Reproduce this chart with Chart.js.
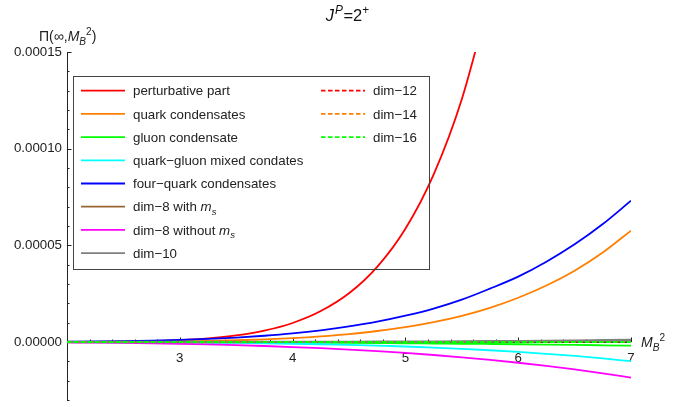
<!DOCTYPE html>
<html><head><meta charset="utf-8">
<style>html,body{margin:0;padding:0;background:#fff}#wrap{width:697px;height:407px;position:relative}</style>
<script src="https://cdn.jsdelivr.net/npm/chart.js@4/dist/chart.umd.min.js"></script>
</head><body><div id="wrap"><canvas id="c" width="697" height="407"></canvas></div>
<script>
// M_B^2 sample points
const mB2 = [2, 2.25, 2.5, 2.75, 3, 3.25, 3.5, 3.75, 4, 4.25, 4.5, 4.75, 5, 5.25, 5.5, 5.75, 6, 6.25, 6.5, 6.75, 7];

const perturbative = [3.8e-8, 9.9e-8, 2.29e-7, 4.91e-7, 9.84e-7, 1.87e-6, 3.38e-6, 5.87e-6, 9.83e-6, 1.60e-5, 2.52e-5, 3.89e-5, 5.86e-5, 8.66e-5, 1.256e-4, 1.79e-4, null, null, null, null, null];
const quarkCond = [3e-8, 6e-8, 1.2e-7, 2.1e-7, 3.6e-7, 5.8e-7, 9.0e-7, 1.36e-6, 2.01e-6, 2.90e-6, 4.07e-6, 5.69e-6, 7.66e-6, 1.026e-5, 1.356e-5, 1.77e-5, 2.29e-5, 2.92e-5, 3.69e-5, 4.63e-5, 5.76e-5];
const gluonCond = [-2e-8, -3e-8, -5e-8, -8e-8, -1.2e-7, -1.7e-7, -2.2e-7, -2.8e-7, -3.5e-7, -4.2e-7, -5.0e-7, -5.9e-7, -6.8e-7, -7.9e-7, -9.0e-7, -1.03e-6, -1.17e-6, -1.33e-6, -1.50e-6, -1.70e-6, -1.92e-6];
const mixedCond = [-5e-8, -8e-8, -1.2e-7, -1.8e-7, -2.6e-7, -3.7e-7, -5.0e-7, -6.8e-7, -9.0e-7, -1.16e-6, -1.49e-6, -1.88e-6, -2.34e-6, -2.88e-6, -3.53e-6, -4.26e-6, -5.12e-6, -6.11e-6, -7.20e-6, -8.50e-6, -9.93e-6];
const fourQuark = [1.4e-7, 2.5e-7, 4.2e-7, 6.8e-7, 1.06e-6, 1.58e-6, 2.28e-6, 3.23e-6, 4.45e-6, 6.03e-6, 8.03e-6, 1.05e-5, 1.36e-5, 1.73e-5, 2.19e-5, 2.76e-5, 3.38e-5, 4.15e-5, 5.05e-5, 6.10e-5, 7.31e-5];
const dim8WithMs = [0, 0, 0, 0, 1e-8, 1e-8, 2e-8, 2e-8, 3e-8, 4e-8, 5e-8, 6e-8, 7e-8, 9e-8, 1.1e-7, 1.3e-7, 1.5e-7, 1.8e-7, 2.1e-7, 2.4e-7, 2.8e-7];
const dim8NoMs = [-2.3e-7, -3.5e-7, -5.0e-7, -7.0e-7, -9.5e-7, -1.26e-6, -1.63e-6, -2.07e-6, -2.60e-6, -3.21e-6, -3.92e-6, -4.74e-6, -5.67e-6, -6.73e-6, -7.92e-6, -9.25e-6, -1.074e-5, -1.239e-5, -1.420e-5, -1.622e-5, -1.842e-5];
const dim10 = [0, 0, 0, 1e-8, 1e-8, 2e-8, 3e-8, 4e-8, 5e-8, 7e-8, 9e-8, 1.2e-7, 1.5e-7, 2.0e-7, 2.7e-7, 3.6e-7, 4.7e-7, 5.8e-7, 7.2e-7, 8.8e-7, 1.05e-6];
const dim12 = [0, 0, 0, 0, 0, 0, 0, 0, 0, 0, 0, 0, 0, 0, 0, 0, 0, 0, 0, 0, 0];
const dim14 = [0, 0, 0, 0, 0, 0, 0, 0, 0, 0, 0, 0, 0, 0, 0, 0, 0, 0, 0, 0, 0];
const dim16 = [0, 0, 0, 0, 0, 0, 0, 0, 0, 0, 0, 0, 0, 0, 0, 0, 0, 0, 0, 0, 0];

const seriesLabels = ['perturbative part', 'quark condensates', 'gluon condensate', 'quark\u2212gluon mixed condates', 'four\u2212quark condensates', 'dim\u22128 with m_s', 'dim\u22128 without m_s', 'dim\u221210', 'dim\u221212', 'dim\u221214', 'dim\u221216'];
const seriesValues = [perturbative, quarkCond, gluonCond, mixedCond, fourQuark, dim8WithMs, dim8NoMs, dim10, dim12, dim14, dim16];
const seriesColors = ['#ff0000', '#ff8000', '#00ff00', '#00ffff', '#0000ff', '#996633', '#ff00ff', '#808080', '#ff0000', '#ff8000', '#00ff00'];
const seriesDashed = [false, false, false, false, false, false, false, false, true, true, true];

const xTickValues = [3, 4, 5, 6, 7];
const xTickLabels = ['3', '4', '5', '6', '7'];
const yTickValues = [0, 0.00005, 0.0001, 0.00015];
const yTickLabels = ['0.00000', '0.00005', '0.00010', '0.00015'];

const FONT = '"Liberation Sans", Arial, Helvetica, sans-serif';

function fontStr(size, italic) { return (italic ? 'italic ' : '') + size + 'px ' + FONT; }

function drawRich(ctx, parts, x, y, size, align) {
  let total = 0;
  const ws = parts.map(p => {
    const s = (p.sub || p.sup) ? size * 0.72 : size;
    ctx.font = fontStr(s, p.i);
    const w = ctx.measureText(p.t).width + (p.gap || 0);
    total += w;
    return w;
  });
  let cx = x;
  if (align === 'center') cx = x - total / 2;
  else if (align === 'right') cx = x - total;
  ctx.textAlign = 'left';
  ctx.textBaseline = 'alphabetic';
  parts.forEach((p, k) => {
    const s = (p.sub || p.sup) ? size * 0.72 : size;
    ctx.font = fontStr(s, p.i);
    let dy = 0;
    if (p.sub) dy = size * 0.25;
    if (p.sup) dy = -size * 0.42;
    ctx.fillText(p.t, cx, y + dy);
    cx += ws[k];
  });
}

function labelParts(label) {
  const idx = label.indexOf('m_s');
  if (idx < 0) return [{ t: label }];
  return [{ t: label.slice(0, idx) }, { t: 'm', i: true }, { t: 's', i: true, sub: true }];
}

const decor = {
  id: 'decor',
  beforeDatasetsDraw(chart) {
    const ctx = chart.ctx;
    const xs = chart.scales.x, ys = chart.scales.y;
    const x0 = xs.getPixelForValue(xs.min), x1 = xs.getPixelForValue(xs.max);
    const y0 = ys.getPixelForValue(0);
    const yTop = ys.getPixelForValue(ys.max), yBot = ys.getPixelForValue(ys.min);
    ctx.save();
    ctx.strokeStyle = '#222';
    ctx.lineWidth = 1;
    ctx.beginPath();
    ctx.moveTo(Math.round(x0) + 0.5, yTop); ctx.lineTo(Math.round(x0) + 0.5, yBot);
    ctx.moveTo(x0, Math.round(y0) + 0.5); ctx.lineTo(x1, Math.round(y0) + 0.5);
    for (let k = -3; k <= 15; k++) {
      const py = Math.round(ys.getPixelForValue(k * 1e-5)) + 0.5;
      const len = (k % 5 === 0) ? 4.5 : 2.5;
      ctx.moveTo(x0, py); ctx.lineTo(x0 + len, py);
    }
    for (let k = 11; k <= 35; k++) {
      const px = Math.round(xs.getPixelForValue(k * 0.2)) + 0.5;
      const len = (k % 5 === 0) ? 4.5 : 2.5;
      ctx.moveTo(px, y0); ctx.lineTo(px, y0 - len);
    }
    ctx.stroke();
    ctx.fillStyle = '#222';
    ctx.font = fontStr(13.3, false);
    ctx.textAlign = 'right'; ctx.textBaseline = 'middle';
    yTickValues.forEach((v, i) => ctx.fillText(yTickLabels[i], x0 - 5, ys.getPixelForValue(v)));
    ctx.textAlign = 'center'; ctx.textBaseline = 'top';
    xTickValues.forEach((v, i) => ctx.fillText(xTickLabels[i], xs.getPixelForValue(v), y0 + 10));
    ctx.restore();
  },
  afterDatasetsDraw(chart) {
    const ctx = chart.ctx;
    ctx.save();
    ctx.strokeStyle = '#444';
    ctx.lineWidth = 1;
    ctx.strokeRect(73.5, 76.5, 356, 193);
    const rowY0 = 90.7, rowDy = 23.2;
    seriesLabels.forEach((lab, i) => {
      const col = i < 8 ? 0 : 1;
      const row = i < 8 ? i : i - 8;
      const lx = col === 0 ? 81 : 321;
      const tx = col === 0 ? 133 : 373;
      const y = rowY0 + row * rowDy;
      ctx.strokeStyle = seriesColors[i];
      ctx.lineWidth = 1.8;
      ctx.setLineDash(seriesDashed[i] ? [4.5, 2.5] : []);
      ctx.beginPath(); ctx.moveTo(lx, y); ctx.lineTo(lx + 44, y); ctx.stroke();
      ctx.setLineDash([]);
      ctx.fillStyle = '#222';
      drawRich(ctx, labelParts(lab), tx, y + 4.7, 13.3, 'left');
    });
    ctx.fillStyle = '#111';
    drawRich(ctx, [{ t: 'J', i: true, gap: 0.8 }, { t: 'P', i: true, sup: true, gap: 0.6 }, { t: '=2' }, { t: '+', sup: true }], 347.5, 20.7, 16.5, 'center');
    ctx.fillStyle = '#222';
    drawRich(ctx, [{ t: '\u03a0(\u221e,' }, { t: 'M', i: true }, { t: 'B', i: true, sub: true }, { t: '2', sup: true }, { t: ')' }], 39, 41, 14, 'left');
    drawRich(ctx, [{ t: 'M', i: true }, { t: 'B', i: true, sub: true }, { t: '2', sup: true }], 641, 347, 14, 'left');
    ctx.restore();
  }
};

const datasets = seriesValues.map((vals, i) => ({
  label: seriesLabels[i],
  data: mB2.map((x, j) => ({ x: x, y: vals[j] })).filter(p => p.y !== null),
  borderColor: seriesColors[i],
  backgroundColor: seriesColors[i],
  borderWidth: i === 7 ? 2.4 : 1.8,
  borderDash: seriesDashed[i] ? [4.5, 2.5] : [],
  pointRadius: 0,
  fill: false,
  cubicInterpolationMode: 'monotone',
  order: seriesValues.length - i
}));

new Chart(document.getElementById('c'), {
  type: 'line',
  data: { datasets: datasets },
  options: {
    responsive: false,
    animation: false,
    devicePixelRatio: 1,
    layout: { padding: { left: 67, right: 66, top: 52, bottom: 7 } },
    plugins: { legend: { display: false }, title: { display: false }, tooltip: { enabled: false } },
    scales: {
      x: { type: 'linear', min: 2, max: 7, display: false },
      y: { type: 'linear', min: -0.00003, max: 0.00015, display: false }
    }
  },
  plugins: [decor]
});
</script>
</body></html>
